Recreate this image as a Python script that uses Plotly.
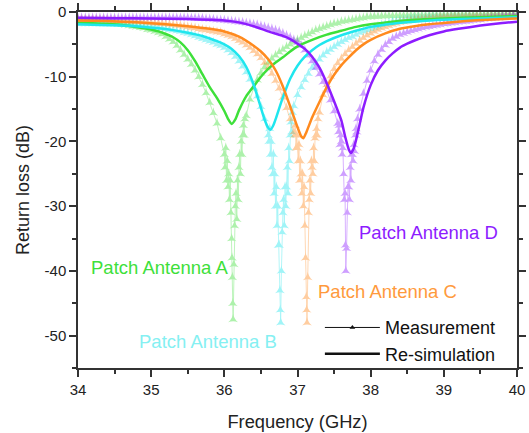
import plotly.graph_objects as go

# ---------------- data ----------------
freq_grid = [
    34.00, 34.05, 34.10, 34.15, 34.20, 34.25, 34.30, 34.35, 34.40, 34.45,
    34.50, 34.55, 34.60, 34.65, 34.70, 34.75, 34.80, 34.85, 34.90, 34.95,
    35.00, 35.05, 35.10, 35.15, 35.20, 35.25, 35.30, 35.35, 35.40, 35.45,
    35.50, 35.55, 35.60, 35.65, 35.70, 35.75, 35.80, 35.85, 35.90, 35.95,
    36.00, 36.05, 36.10, 36.15, 36.20, 36.25, 36.30, 36.35, 36.40, 36.45,
    36.50, 36.55, 36.60, 36.65, 36.70, 36.75, 36.80, 36.85, 36.90, 36.95,
    37.00, 37.05, 37.10, 37.15, 37.20, 37.25, 37.30, 37.35, 37.40, 37.45,
    37.50, 37.55, 37.60, 37.65, 37.70, 37.75, 37.80, 37.85, 37.90, 37.95,
    38.00, 38.05, 38.10, 38.15, 38.20, 38.25, 38.30, 38.35, 38.40, 38.45,
    38.50, 38.55, 38.60, 38.65, 38.70, 38.75, 38.80, 38.85, 38.90, 38.95,
    39.00, 39.05, 39.10, 39.15, 39.20, 39.25, 39.30, 39.35, 39.40, 39.45,
    39.50, 39.55, 39.60, 39.65, 39.70, 39.75, 39.80, 39.85, 39.90, 39.95,
    40.00,
]

meas_A_db = [
    -1.5, -1.5, -1.5, -1.5, -1.5, -1.5, -1.6, -1.6, -1.6, -1.7,
    -1.7, -1.8, -1.9, -2.0, -2.1, -2.2, -2.3, -2.4, -2.5, -2.7,
    -2.8, -3.0, -3.2, -3.4, -3.8, -4.2, -4.6, -5.2, -5.9, -6.6,
    -7.3, -8.1, -9.0, -10.0, -11.2, -12.5, -14.0, -15.6, -17.2, -19.5,
    -22.0, -27.0, -35.0, -30.0, -24.0, -19.0, -16.0, -13.5, -11.8, -10.5,
    -9.4, -8.5, -7.8, -7.2, -6.7, -6.2, -5.8, -5.4, -5.0, -4.6,
    -4.3, -4.0, -3.7, -3.4, -3.1, -2.8, -2.6, -2.4, -2.2, -2.0,
    -1.8, -1.7, -1.5, -1.4, -1.3, -1.2, -1.1, -1.0, -0.9, -0.8,
    -0.75, -0.7, -0.7, -0.65, -0.65, -0.6, -0.6, -0.6, -0.55, -0.55,
    -0.55, -0.5, -0.5, -0.5, -0.5, -0.5, -0.45, -0.45, -0.45, -0.45,
    -0.45, -0.45, -0.4, -0.4, -0.4, -0.4, -0.4, -0.4, -0.4, -0.4,
    -0.4, -0.4, -0.35, -0.35, -0.35, -0.35, -0.35, -0.35, -0.35, -0.3,
    -0.3,
]
meas_B_db = [
    -1.8, -1.8, -1.8, -1.8, -1.8, -1.8, -1.8, -1.8, -1.8, -1.85,
    -1.85, -1.9, -1.9, -1.95, -2.0, -2.0, -2.05, -2.1, -2.15, -2.2,
    -2.25, -2.3, -2.4, -2.5, -2.6, -2.7, -2.8, -2.9, -3.0, -3.2,
    -3.3, -3.5, -3.7, -3.9, -4.1, -4.3, -4.5, -4.7, -5.0, -5.2,
    -5.5, -5.9, -6.3, -6.9, -7.6, -8.4, -9.3, -10.4, -11.6, -13.0,
    -14.6, -16.5, -19.0, -24.0, -30.0, -36.0, -31.0, -27.0, -19.0, -14.5,
    -12.8, -11.6, -10.5, -9.5, -8.6, -7.9, -7.3, -6.7, -6.2, -5.8,
    -5.4, -5.0, -4.6, -4.3, -4.0, -3.8, -3.5, -3.2, -3.0, -2.8,
    -2.6, -2.4, -2.2, -2.0, -1.85, -1.7, -1.5, -1.4, -1.3, -1.2,
    -1.1, -1.05, -1.0, -0.95, -0.9, -0.85, -0.8, -0.8, -0.75, -0.75,
    -0.7, -0.7, -0.7, -0.65, -0.65, -0.65, -0.6, -0.6, -0.6, -0.6,
    -0.55, -0.55, -0.55, -0.55, -0.5, -0.5, -0.5, -0.5, -0.5, -0.5,
    -0.5,
]
meas_C_db = [
    -1.2, -1.2, -1.2, -1.2, -1.2, -1.2, -1.2, -1.25, -1.25, -1.3,
    -1.3, -1.35, -1.35, -1.4, -1.4, -1.45, -1.5, -1.5, -1.55, -1.6,
    -1.65, -1.7, -1.75, -1.8, -1.85, -1.9, -2.0, -2.05, -2.1, -2.2,
    -2.3, -2.4, -2.5, -2.6, -2.7, -2.8, -2.9, -3.0, -3.1, -3.2,
    -3.4, -3.6, -3.8, -4.1, -4.4, -4.7, -5.1, -5.5, -6.0, -6.5,
    -7.1, -7.8, -8.6, -9.5, -10.6, -11.8, -13.2, -14.8, -16.5, -18.5,
    -21.0, -25.0, -33.0, -31.0, -24.0, -19.0, -15.5, -12.8, -11.2, -9.9,
    -8.8, -7.9, -7.2, -6.5, -5.9, -5.4, -4.9, -4.4, -4.0, -3.6,
    -3.3, -3.0, -2.7, -2.5, -2.3, -2.1, -1.9, -1.75, -1.6, -1.5,
    -1.4, -1.3, -1.2, -1.1, -1.05, -1.0, -0.95, -0.9, -0.85, -0.8,
    -0.8, -0.75, -0.75, -0.7, -0.7, -0.7, -0.65, -0.65, -0.65, -0.6,
    -0.6, -0.6, -0.6, -0.55, -0.55, -0.55, -0.55, -0.5, -0.5, -0.5,
    -0.5,
]
meas_D_db = [
    -0.9, -0.9, -0.9, -0.9, -0.9, -0.9, -0.9, -0.9, -0.9, -0.9,
    -0.9, -0.9, -0.9, -0.9, -0.9, -0.9, -0.9, -0.9, -0.9, -0.9,
    -0.9, -0.9, -0.9, -0.9, -0.9, -0.9, -0.9, -0.9, -0.9, -0.9,
    -0.9, -0.95, -0.95, -1.0, -1.0, -1.05, -1.1, -1.15, -1.2, -1.25,
    -1.3, -1.35, -1.4, -1.5, -1.55, -1.6, -1.7, -1.8, -1.9, -2.0,
    -2.15, -2.3, -2.45, -2.6, -2.8, -3.0, -3.3, -3.6, -3.9, -4.3,
    -4.7, -5.2, -5.9, -6.7, -7.6, -8.6, -9.6, -10.8, -12.1, -13.6,
    -15.3, -17.2, -20.0, -28.0, -27.0, -22.0, -18.0, -15.0, -12.6, -10.6,
    -9.0, -7.6, -6.6, -5.8, -5.1, -4.6, -4.1, -3.8, -3.5, -3.3,
    -3.1, -2.9, -2.75, -2.6, -2.45, -2.35, -2.25, -2.15, -2.05, -1.95,
    -1.85, -1.8, -1.7, -1.65, -1.55, -1.5, -1.45, -1.4, -1.3, -1.25,
    -1.2, -1.1, -1.05, -1.0, -0.95, -0.9, -0.8, -0.75, -0.7, -0.6,
    -0.55,
]

# extra, finer-spaced measurement points around each resonance
dip_A_freq = [36.01, 36.02, 36.03, 36.04, 36.06, 36.07, 36.08, 36.09, 36.105, 36.11,
              36.115, 36.12, 36.13, 36.14, 36.16, 36.17, 36.18, 36.19, 36.21, 36.22,
              36.23, 36.24, 36.26, 36.27, 36.28]
dip_A_db = [-24.0, -21.0, -26.0, -23.0, -25.0, -29.0, -26.0, -31.0, -38.0, -41.0,
            -45.0, -47.5, -39.0, -33.0, -28.0, -32.0, -26.0, -29.0, -22.0, -25.0,
            -20.0, -22.0, -17.5, -19.0, -16.5]
dip_B_freq = [36.61, 36.62, 36.63, 36.64, 36.66, 36.67, 36.68, 36.69, 36.71, 36.72,
              36.73, 36.74, 36.76, 36.765, 36.77, 36.78, 36.79, 36.81, 36.82, 36.83,
              36.84, 36.86, 36.87, 36.88, 36.89, 36.91, 36.92, 36.93]
dip_B_db = [-20.0, -18.0, -22.0, -20.0, -25.0, -22.0, -28.0, -25.0, -27.0, -33.0,
            -30.0, -36.0, -43.0, -46.0, -48.0, -40.0, -34.0, -29.0, -33.0, -27.0,
            -30.0, -24.0, -28.0, -21.0, -23.0, -17.0, -18.5, -15.5]
dip_C_freq = [36.96, 36.97, 36.98, 36.99, 37.01, 37.02, 37.03, 37.04, 37.06, 37.07,
              37.08, 37.09, 37.11, 37.12, 37.125, 37.13, 37.14, 37.16, 37.17, 37.18,
              37.19, 37.21, 37.22, 37.23, 37.24, 37.26, 37.27, 37.28]
dip_C_db = [-19.0, -17.5, -21.0, -19.0, -23.0, -20.5, -26.0, -23.0, -28.0, -25.0,
            -30.0, -27.0, -38.0, -44.0, -46.0, -48.0, -41.0, -29.0, -26.0, -28.0,
            -23.0, -25.0, -21.0, -23.0, -19.5, -18.0, -19.0, -16.5]
dip_D_freq = [37.56, 37.57, 37.58, 37.59, 37.61, 37.62, 37.63, 37.64, 37.655, 37.66,
              37.67, 37.68, 37.69, 37.71, 37.72, 37.73, 37.74, 37.76, 37.77, 37.78,
              37.79, 37.81, 37.82]
dip_D_db = [-18.5, -17.5, -20.5, -19.0, -22.0, -21.0, -25.0, -29.0, -36.0, -40.0,
            -36.5, -31.0, -27.0, -29.0, -24.0, -26.0, -22.0, -23.0, -20.5, -21.5,
            -19.0, -18.5, -16.5]

# re-simulation curves
sim_A_freq = [34.0, 34.2, 34.4, 34.6, 34.8, 35.0, 35.1, 35.2, 35.3, 35.4, 35.5, 35.6,
              35.7, 35.8, 35.9, 36.0, 36.05, 36.1, 36.15, 36.2, 36.3, 36.4, 36.5, 36.6,
              36.7, 36.8, 36.9, 37.0, 37.2, 37.4, 37.6, 37.8, 38.0, 38.3, 38.6, 39.0,
              39.5, 40.0]
sim_A_db = [-1.7, -1.75, -1.85, -2.0, -2.3, -2.7, -3.0, -3.4, -3.9, -4.7, -5.9, -7.6,
            -9.6, -11.6, -13.3, -15.3, -16.5, -17.3, -16.6, -15.2, -13.0, -11.5, -10.0, -8.8,
            -7.8, -7.0, -6.1, -5.3, -4.3, -3.5, -2.9, -2.3, -1.9, -1.5, -1.2, -1.0,
            -0.8, -0.6]
sim_B_freq = [34.0, 34.3, 34.6, 34.9, 35.1, 35.3, 35.5, 35.7, 35.8, 35.9, 36.0, 36.1,
              36.2, 36.3, 36.4, 36.5, 36.55, 36.6, 36.63, 36.67, 36.7, 36.8, 36.9, 37.0,
              37.1, 37.2, 37.3, 37.4, 37.6, 37.8, 38.0, 38.3, 38.6, 39.0, 39.5, 40.0]
sim_B_db = [-1.9, -2.0, -2.1, -2.3, -2.5, -2.8, -3.2, -3.7, -4.1, -4.5, -5.0, -5.7,
            -6.8, -8.5, -11.2, -14.8, -16.6, -17.9, -18.2, -17.5, -16.6, -13.2, -10.3, -8.3,
            -6.9, -5.9, -5.1, -4.5, -3.6, -2.9, -2.3, -1.8, -1.5, -1.2, -1.0, -0.8]
sim_C_freq = [34.0, 34.4, 34.8, 35.2, 35.5, 35.8, 36.0, 36.2, 36.4, 36.5, 36.6, 36.7,
              36.8, 36.9, 37.0, 37.05, 37.08, 37.12, 37.2, 37.3, 37.4, 37.5, 37.6, 37.7,
              37.8, 37.9, 38.0, 38.2, 38.4, 38.6, 38.8, 39.0, 39.3, 39.6, 40.0]
sim_C_db = [-1.3, -1.4, -1.6, -1.9, -2.2, -2.6, -3.0, -3.8, -5.2, -6.1, -7.3, -9.0,
            -11.5, -14.6, -17.8, -19.2, -19.5, -18.6, -16.3, -13.9, -11.6, -9.7, -8.2, -7.0,
            -5.9, -5.0, -4.3, -3.3, -2.6, -2.2, -1.9, -1.7, -1.4, -1.2, -1.0]
sim_D_freq = [34.0, 34.5, 35.0, 35.5, 35.8, 36.0, 36.2, 36.4, 36.6, 36.8, 36.9, 37.0,
              37.1, 37.2, 37.3, 37.4, 37.5, 37.6, 37.65, 37.7, 37.73, 37.77, 37.8, 37.86,
              37.9, 38.0, 38.1, 38.2, 38.3, 38.4, 38.5, 38.6, 38.8, 39.0, 39.2, 39.5,
              39.8, 40.0]
sim_D_db = [-0.9, -0.95, -1.0, -1.1, -1.2, -1.3, -1.6, -2.2, -3.0, -3.7, -4.2, -4.9,
            -5.7, -6.9, -8.6, -11.0, -13.8, -16.8, -19.2, -21.2, -21.8, -21.0, -19.8, -16.8,
            -14.8, -11.3, -9.0, -7.5, -6.4, -5.5, -4.9, -4.4, -3.6, -3.0, -2.6, -2.1,
            -1.7, -1.5]

y_tick_vals = [0, -10, -20, -30, -40, -50]
y_tick_text = ["0", "-10", "-20", "-30", "-40", "-50"]

antenna_names = ["Patch Antenna A", "Patch Antenna B", "Patch Antenna C", "Patch Antenna D"]
colors = ["#3ee03a", "#1fe6ee", "#ff8a1e", "#8d1cff"]
label_colors = ["#3ee03a", "#85f0f2", "#ff9a3c", "#8d1cff"]
label_pos = [(35.11, -39.4), (35.77, -50.9), (38.23, -43.2), (38.79, -34.1)]

meas_db = [meas_A_db, meas_B_db, meas_C_db, meas_D_db]
dips = [(dip_A_freq, dip_A_db), (dip_B_freq, dip_B_db),
        (dip_C_freq, dip_C_db), (dip_D_freq, dip_D_db)]
sims = [(sim_A_freq, sim_A_db), (sim_B_freq, sim_B_db),
        (sim_C_freq, sim_C_db), (sim_D_freq, sim_D_db)]

FONT = "Liberation Sans, Arial, sans-serif"

fig = go.Figure()

# measurements
for i in range(4):
    pts = sorted(list(zip(freq_grid, meas_db[i])) + list(zip(dips[i][0], dips[i][1])))
    fig.add_trace(go.Scatter(
        x=[p[0] for p in pts], y=[p[1] for p in pts],
        mode="lines+markers",
        line=dict(color=colors[i], width=0.8),
        marker=dict(symbol="star-triangle-up", size=7, color=colors[i]),
        opacity=0.42, showlegend=False, hoverinfo="skip",
    ))

# re-simulations
for i in range(4):
    fig.add_trace(go.Scatter(
        x=sims[i][0], y=sims[i][1], mode="lines",
        line=dict(color=colors[i], width=2.5, shape="spline", smoothing=0.6),
        showlegend=False, hoverinfo="skip",
    ))

# legend entries
fig.add_trace(go.Scatter(
    x=[None], y=[None], mode="lines+markers", name="Measurement",
    line=dict(color="#111111", width=1),
    marker=dict(symbol="triangle-up", size=5, color="#111111"),
))
fig.add_trace(go.Scatter(
    x=[None], y=[None], mode="lines", name="Re-simulation",
    line=dict(color="#111111", width=2.5),
))

for i in range(4):
    fig.add_annotation(
        x=label_pos[i][0], y=label_pos[i][1], text=antenna_names[i],
        showarrow=False, font=dict(family=FONT, size=18.5, color=label_colors[i]),
        xanchor="center", yanchor="middle",
    )

axis_common = dict(
    showline=True, linecolor="#333333", linewidth=1.5, mirror="allticks",
    ticks="outside", ticklen=7, tickwidth=1.5, tickcolor="#333333",
    showgrid=False, zeroline=False, automargin=False,
    tickfont=dict(family=FONT, size=15, color="#222222"),
)

fig.update_xaxes(
    range=[34, 40], dtick=1, tick0=34,
    minor=dict(dtick=0.5, ticks="outside", ticklen=4, tickwidth=1.5, tickcolor="#333333"),
    title=dict(text="Frequency (GHz)", font=dict(family=FONT, size=18.3, color="#222222"), standoff=18),
    **axis_common,
)
fig.update_yaxes(
    range=[-55, 0], tickmode="array", tickvals=y_tick_vals, ticktext=y_tick_text,
    minor=dict(dtick=5, tick0=0, ticks="outside", ticklen=4, tickwidth=1.5, tickcolor="#333333"),
    title=dict(text="Return loss (dB)", font=dict(family=FONT, size=18, color="#222222"), standoff=10),
    **axis_common,
)

fig.update_layout(
    width=529, height=433,
    margin=dict(l=78, r=12, t=12, b=65),
    paper_bgcolor="white", plot_bgcolor="white",
    showlegend=True,
    legend=dict(
        x=0.551, y=0.165, xanchor="left", yanchor="top",
        bgcolor="rgba(0,0,0,0)", font=dict(family=FONT, size=18, color="#111111"),
        itemwidth=55, tracegroupgap=0,
    ),
)

fig.write_html("out.html")
